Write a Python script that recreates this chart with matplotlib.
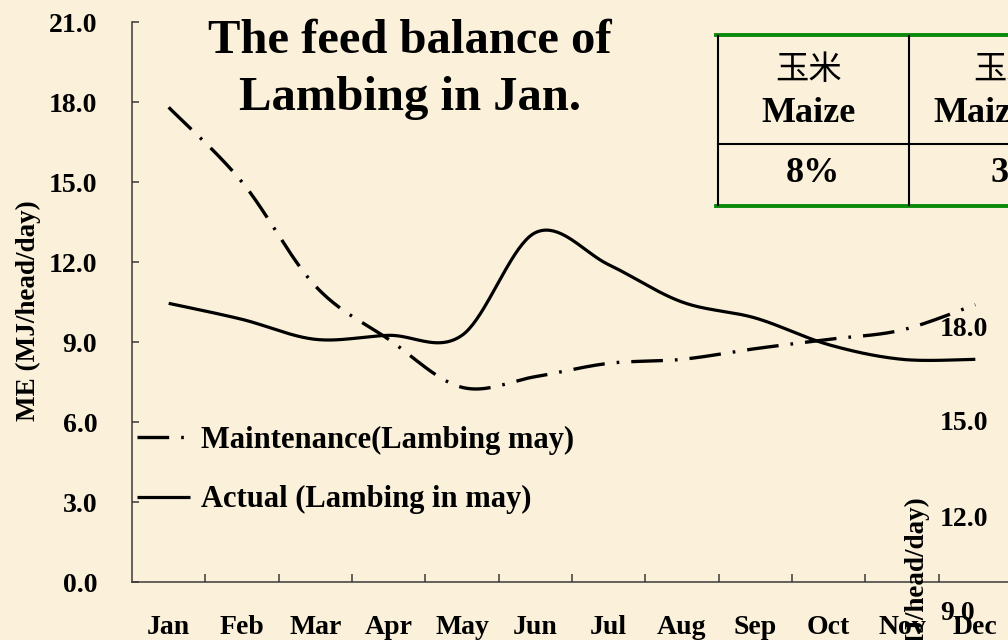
import numpy as np
import matplotlib
matplotlib.use("Agg")
import matplotlib.pyplot as plt
from matplotlib.lines import Line2D
from matplotlib.font_manager import FontProperties

# ---------------- data ----------------
months = ["Jan", "Feb", "Mar", "Apr", "May", "Jun", "Jul", "Aug", "Sep", "Oct", "Nov", "Dec"]
maintenance = [17.8, 15.0, 11.1, 9.1, 7.3, 7.7, 8.2, 8.35, 8.75, 9.1, 9.45, 10.4]
actual = [10.45, 9.85, 9.1, 9.25, 9.25, 13.1, 11.9, 10.5, 9.9, 8.9, 8.35, 8.35]
series_labels = ["Maintenance(Lambing may)", "Actual (Lambing in may)"]
yticks = [0, 3, 6, 9, 12, 15, 18, 21]
title_lines = ["The feed balance of", "Lambing in Jan."]
ylabel = "ME (MJ/head/day)"
table_header = ["玉米", "Maize"]
table_values = ["8%", "3"]
overlay_ticks = ["18.0", "15.0", "12.0", "9.0"]

W, H = 1008, 640
BG = "#FBF1DA"
SERIF = "Liberation Serif"


def fx(px):
    return px / W


def fy(py):
    return 1 - py / H


def smooth(xs, ys, n=40):
    """Catmull-Rom style smoothing (like office 'smoothed line')."""
    xs = np.asarray(xs, float)
    ys = np.asarray(ys, float)
    P = np.column_stack([xs, ys])
    out = []
    m = len(P)
    for i in range(m - 1):
        p0 = P[i - 1] if i > 0 else P[i]
        p1 = P[i]
        p2 = P[i + 1]
        p3 = P[i + 2] if i + 2 < m else P[i + 1]
        c1 = p1 + (p2 - p0) / 6.0
        c2 = p2 - (p3 - p1) / 6.0
        t = np.linspace(0, 1, n, endpoint=(i == m - 2))[:, None]
        seg = ((1 - t) ** 3) * p1 + 3 * ((1 - t) ** 2) * t * c1 + 3 * (1 - t) * t ** 2 * c2 + t ** 3 * p2
        out.append(seg)
    out = np.vstack(out)
    return out[:, 0], out[:, 1]


fig = plt.figure(figsize=(W / 100, H / 100), dpi=100, facecolor=BG)
ax = fig.add_axes([fx(132), fy(582), fx(1012) - fx(132), fy(22) - fy(582)])
ax.set_facecolor("none")

x = np.arange(len(months))
sx, sy = smooth(x, maintenance)
l1, = ax.plot(sx, sy, color="black", lw=2.4, dashes=(9.5, 3.6, 0.8, 3.6),
              dash_capstyle="butt", label=series_labels[0], clip_on=False)
sx2, sy2 = smooth(x, actual)
l2, = ax.plot(sx2, sy2, color="black", lw=2.3, solid_capstyle="butt",
              label=series_labels[1], clip_on=False)

ax.set_xlim(-0.5, 11.5)
ax.set_ylim(0, 21)

for s in ["top", "right"]:
    ax.spines[s].set_visible(False)
for s in ["left", "bottom"]:
    ax.spines[s].set_color("#3a3a3a")
    ax.spines[s].set_linewidth(1.1)

tick_font = FontProperties(family=SERIF, weight="bold", size=20)
ax.set_yticks(yticks)
ax.set_yticklabels([f"{v:.1f}" for v in yticks], fontproperties=tick_font)
ax.tick_params(axis="y", direction="in", length=5, width=1.1, color="#3a3a3a", pad=25)

ax.set_xticks(np.arange(0.5, 11, 1))
ax.set_xticklabels([])
ax.tick_params(axis="x", which="major", direction="in", length=6, width=1.1, color="#3a3a3a")
ax.set_xticks(x, minor=True)
ax.set_xticklabels(months, minor=True, fontproperties=tick_font)
ax.tick_params(axis="x", which="minor", length=0, pad=24)

fig.text(fx(28), fy(311), ylabel, rotation=90, ha="center", va="center",
         fontproperties=FontProperties(family=SERIF, weight="bold", size=19.5))

# title
title_font = FontProperties(family=SERIF, weight="bold", size=35)
fig.text(fx(410), fy(53), title_lines[0], ha="center", va="baseline", fontproperties=title_font)
fig.text(fx(410), fy(110), title_lines[1], ha="center", va="baseline", fontproperties=title_font)

# legend
leg = ax.legend(handles=[l1, l2], loc="center left",
                bbox_to_anchor=(fx(137), fy(470)), bbox_transform=fig.transFigure,
                frameon=False, borderpad=0, borderaxespad=0, handlelength=1.75,
                handletextpad=0.33, labelspacing=0.99,
                prop=FontProperties(family=SERIF, weight="bold", size=22))

# table (partially cut by the right edge)
green = "#0a8a0a"
fig.add_artist(Line2D([fx(716), fx(1010)], [fy(35), fy(35)], color=green, lw=2.8, transform=fig.transFigure))
fig.add_artist(Line2D([fx(716), fx(1010)], [fy(206), fy(206)], color=green, lw=2.8, transform=fig.transFigure))
fig.add_artist(Line2D([fx(718), fx(1010)], [fy(144), fy(144)], color="black", lw=1.5, transform=fig.transFigure))
fig.add_artist(Line2D([fx(718), fx(718)], [fy(36), fy(205)], color="black", lw=1.5, transform=fig.transFigure))
fig.add_artist(Line2D([fx(909), fx(909)], [fy(36), fy(205)], color="black", lw=1.5, transform=fig.transFigure))

cjk_font = FontProperties(family="Noto Sans CJK SC", size=24)
tab_font = FontProperties(family=SERIF, weight="bold", size=26)
fig.text(fx(809), fy(69), table_header[0], ha="center", va="center", fontproperties=cjk_font)
fig.text(fx(809), fy(114), table_header[1], ha="center", va="center", fontproperties=tab_font)
fig.text(fx(813), fy(174), table_values[0], ha="center", va="center", fontproperties=tab_font)
fig.text(fx(973), fy(69), table_header[0], ha="left", va="center", fontproperties=cjk_font)
fig.text(fx(933), fy(114), table_header[1], ha="left", va="center", fontproperties=tab_font)
fig.text(fx(990), fy(174), table_values[1], ha="left", va="center", fontproperties=tab_font)

# overlay of another chart's axis labels (visible at the right edge)
for lab, py in zip(overlay_ticks, [330, 424, 519, 614]):
    fig.text(fx(940), fy(py), lab, ha="left", va="center", fontproperties=tick_font)
fig.text(fx(917), fy(497), ylabel, rotation=90, ha="center", va="top",
         fontproperties=FontProperties(family=SERIF, weight="bold", size=19.5))

fig.savefig("out.png", dpi=100, facecolor=BG)
